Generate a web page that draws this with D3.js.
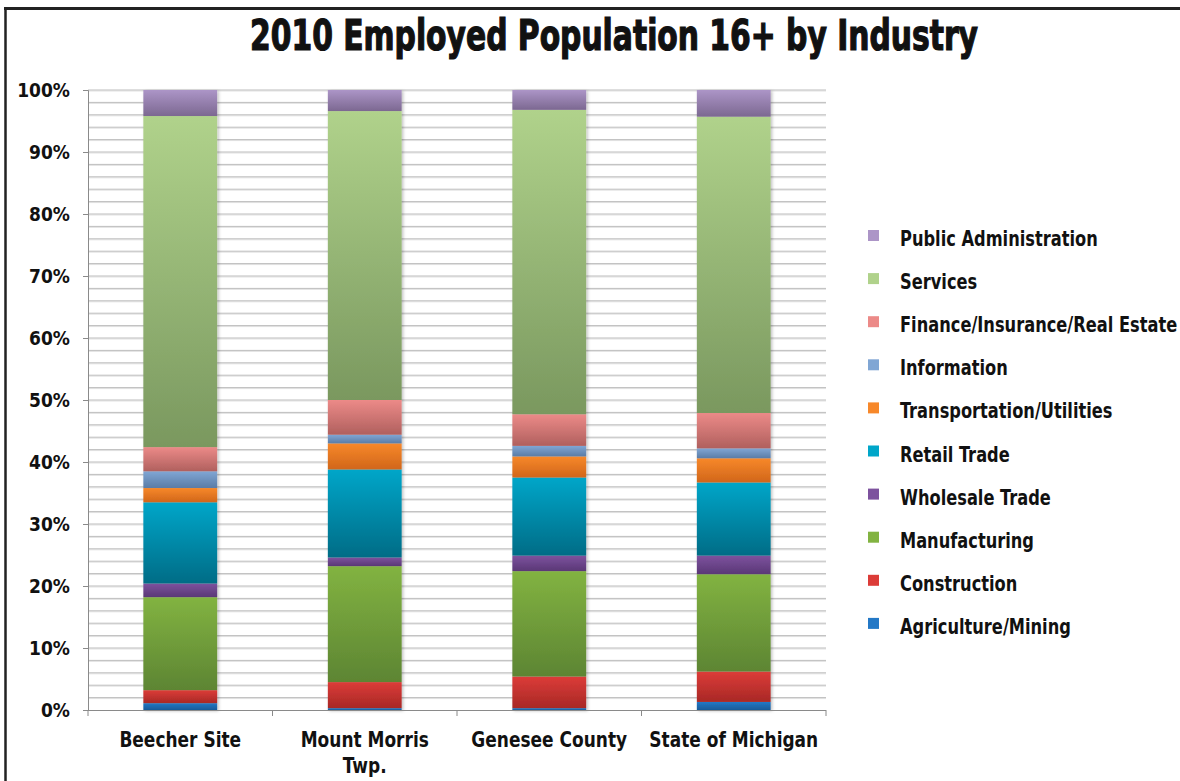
<!DOCTYPE html>
<html>
<head>
<meta charset="utf-8">
<script src="https://cdn.jsdelivr.net/npm/d3@7"></script>
<style>
  html, body { margin: 0; padding: 0; background: #fff; }
  svg { display: block; }
  text { font-family: "Liberation Sans Narrow", "DejaVu Sans Condensed", "Liberation Sans", sans-serif; font-weight: bold; fill: #111; }
</style>
</head>
<body>
<svg id="chart" width="1180" height="781"></svg>
<script>
// Areas compared
const categories = ["Beecher Site", "Mount Morris Twp.", "Genesee County", "State of Michigan"];
const categoryLines = [["Beecher Site"], ["Mount Morris", "Twp."], ["Genesee County"], ["State of Michigan"]];

// Industries, bottom of the stack first
const industries = [
  "Agriculture/Mining", "Construction", "Manufacturing", "Wholesale Trade", "Retail Trade",
  "Transportation/Utilities", "Information", "Finance/Insurance/Real Estate", "Services", "Public Administration"
];

// Share of employed population (%) per area, same order as industries
const beecherSite     = [1.1, 2.1, 15.0, 2.2, 13.1, 2.3, 2.7, 3.9, 53.4, 4.2];
const mountMorrisTwp  = [0.3, 4.2, 18.7, 1.4, 14.2, 4.2, 1.4, 5.6, 46.6, 3.4];
const geneseeCounty   = [0.3, 5.1, 17.0, 2.5, 12.6, 3.4, 1.7, 5.1, 49.1, 3.2];
const stateOfMichigan = [1.3, 4.9, 15.7, 3.0, 11.8, 3.9, 1.6, 5.7, 47.8, 4.3];
const seriesByArea = [beecherSite, mountMorrisTwp, geneseeCounty, stateOfMichigan];

const yTicks = [0, 10, 20, 30, 40, 50, 60, 70, 80, 90, 100];

// Fill gradients per industry: [top, bottom]
const colors = [
  ["#2378c6", "#185a98"],
  ["#dc3c38", "#a82826"],
  ["#82b341", "#5d8533"],
  ["#7d529e", "#5a3776"],
  ["#00a6c9", "#006c86"],
  ["#f7882a", "#d1661a"],
  ["#80a6d4", "#5a7ca6"],
  ["#ec8a88", "#b0605e"],
  ["#b0d28b", "#7a985f"],
  ["#ac95c7", "#7c6891"]
];

const svg = d3.select("#chart");
const defs = svg.append("defs");
colors.forEach((c, i) => {
  const g = defs.append("linearGradient").attr("id", "grad" + i)
    .attr("x1", 0).attr("y1", 0).attr("x2", 0).attr("y2", 1);
  g.append("stop").attr("offset", "0%").attr("stop-color", c[0]);
  g.append("stop").attr("offset", "100%").attr("stop-color", c[1]);
});
const shadow = defs.append("filter").attr("id", "shadow")
  .attr("x", "-10%").attr("y", "-5%").attr("width", "130%").attr("height", "110%");
shadow.append("feDropShadow").attr("dx", 1.5).attr("dy", 1).attr("stdDeviation", 1.5)
  .attr("flood-color", "#000").attr("flood-opacity", 0.25);

// Narrowed text: draws a label at (px, py) squeezed horizontally by sx
function narrowText(parent, px, py, sx, anchor, size, str) {
  return parent.append("text")
    .attr("transform", `translate(${px},${py}) scale(${sx},1)`)
    .attr("text-anchor", anchor)
    .style("font-size", size + "px")
    .text(str);
}

// Frame
svg.append("line").attr("x1", 4).attr("x2", 1180).attr("y1", 8.5).attr("y2", 8.5)
  .attr("stroke", "#222").attr("stroke-width", 3);
svg.append("line").attr("x1", 5.5).attr("x2", 5.5).attr("y1", 7).attr("y2", 781)
  .attr("stroke", "#222").attr("stroke-width", 2.5);

// Title
svg.append("text").attr("x", 614).attr("y", 50).attr("text-anchor", "middle")
  .attr("textLength", 728).attr("lengthAdjust", "spacingAndGlyphs")
  .style("font-size", "42px").style("stroke", "#111").style("stroke-width", 1.2)
  .text("2010 Employed Population 16+ by Industry");

const plotLeft = 88, plotRight = 826, plotTop = 90, plotBottom = 710;
const x = d3.scaleBand().domain(categories).range([plotLeft, plotRight]).padding(0);
const y = d3.scaleLinear().domain([0, 100]).range([plotBottom, plotTop]);

// Minor gridlines every 2%
const grid = d3.range(2, 101, 2);
svg.append("g").selectAll("line").data(grid).join("line")
  .attr("x1", plotLeft).attr("x2", plotRight)
  .attr("y1", d => y(d) + 1).attr("y2", d => y(d) + 1)
  .attr("stroke", "#e2e2e2").attr("stroke-width", 1);
svg.append("g").selectAll("line").data(grid).join("line")
  .attr("x1", plotLeft).attr("x2", plotRight)
  .attr("y1", d => y(d)).attr("y2", d => y(d))
  .attr("stroke", "#bdbdbd").attr("stroke-width", 1);

// Stacked bars
const barW = x.bandwidth() * 0.4;
const stackData = categories.map((c, i) => {
  const o = { cat: c };
  industries.forEach((ind, j) => { o[ind] = seriesByArea[i][j]; });
  return o;
});
const stacked = d3.stack().keys(industries)(stackData);
const barsG = svg.append("g").attr("filter", "url(#shadow)");
stacked.forEach((layer, j) => {
  barsG.append("g").selectAll("rect").data(layer).join("rect")
    .attr("x", d => x(d.data.cat) + (x.bandwidth() - barW) / 2)
    .attr("width", barW)
    .attr("y", d => y(d[1]))
    .attr("height", d => y(d[0]) - y(d[1]))
    .attr("fill", "url(#grad" + j + ")");
});

// Y axis
const yAxis = d3.axisLeft(y).tickValues(yTicks).tickFormat("").tickSize(5);
const yG = svg.append("g").attr("transform", `translate(${plotLeft},0)`).call(yAxis);
yG.select(".domain").attr("stroke", "#8a8a8a");
yG.selectAll(".tick line").attr("stroke", "#8a8a8a");
yTicks.forEach(v => narrowText(svg, 70, y(v) + 7, 0.95, "end", 20, v + "%"));

// X axis with boundary ticks
const xG = svg.append("g");
xG.append("line").attr("x1", plotLeft).attr("x2", plotRight).attr("y1", plotBottom + 0.5).attr("y2", plotBottom + 0.5)
  .attr("stroke", "#8a8a8a");
const bounds = categories.map(c => x(c)).concat([x(categories[categories.length - 1]) + x.bandwidth()]);
xG.selectAll("line.tk").data(bounds).join("line").attr("class", "tk")
  .attr("x1", d => d).attr("x2", d => d).attr("y1", plotBottom).attr("y2", plotBottom + 6)
  .attr("stroke", "#8a8a8a");
categories.forEach((c, i) => {
  categoryLines[i].forEach((ln, k) => {
    narrowText(xG, x(c) + x.bandwidth() / 2, 747 + k * 26, 0.9, "middle", 21, ln);
  });
});

// Legend, top entry is the top of the stack
const legendItems = industries.slice().reverse();
const legendColors = colors.slice().reverse();
const lg = svg.append("g");
legendItems.forEach((name, i) => {
  const yy = 238 + i * 43.1;
  lg.append("rect").attr("x", 868).attr("y", yy - 8).attr("width", 11).attr("height", 11)
    .attr("fill", legendColors[i][0]);
  narrowText(lg, 900, yy + 8, 0.86, "start", 21, name);
});
</script>
</body>
</html>
